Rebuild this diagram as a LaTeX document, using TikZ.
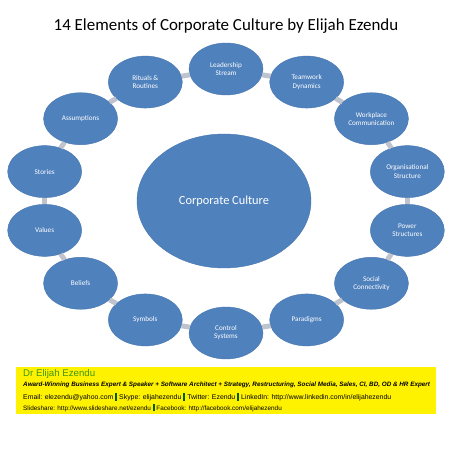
\documentclass[tikz,border=0pt]{standalone}
\usepackage{fontspec}
\setmainfont{Carlito}
\newfontfamily\arialfont{Liberation Sans}
\usepackage{tikz}
\usetikzlibrary{positioning,shapes.geometric,calc}

\definecolor{ringblue}{RGB}{79,129,189}
\definecolor{ringedge}{RGB}{70,118,175}
\definecolor{linkgray}{RGB}{190,195,205}
\definecolor{namegreen}{RGB}{60,150,20}
\definecolor{bargreen}{RGB}{0,95,0}

\newcommand{\sepbar}{ {\color{bargreen}\rule[-0.15ex]{0.3em}{1.15em}} }

\begin{document}
\begin{tikzpicture}[
  x=1bp, y=1bp,
  elem/.style={ellipse, draw=ringedge, line width=0.4pt, fill=ringblue,
               minimum width=74bp, minimum height=52bp, inner sep=0pt,
               text=white, align=center, font=\fontsize{7.2}{8.2}\selectfont},
  link/.style={line width=5bp, color=linkgray},
  infoline/.style={anchor=west, inner sep=0pt, font=\arialfont\fontsize{6.4}{7}\selectfont},
]
\useasboundingbox[fill=white] (-226,-252) rectangle (227,201);

\node (title) at (0,175) {\fontsize{17}{20}\selectfont 14 Elements of Corporate Culture by Elijah Ezendu};

% centre
\node[elem, minimum width=174bp, minimum height=134bp, font=\fontsize{12.4}{14}\selectfont] (core) at (-2,0) {Corporate Culture};

% ring of elements
\node[elem] (lead)    at (90:186bp and 132bp)      {Leadership\\Stream};
\node[elem] (team)    at (64.29:186bp and 132bp)   {Teamwork\\Dynamics};
\node[elem] (work)    at (38.57:186bp and 132bp)   {Workplace\\Communication};
\node[elem] (org)     at (12.86:186bp and 132bp)   {Organisational\\Structure};
\node[elem] (power)   at (-12.86:186bp and 132bp)  {Power\\Structures};
\node[elem] (social)  at (-38.57:186bp and 132bp)  {Social\\Connectivity};
\node[elem] (para)    at (-64.29:186bp and 132bp)  {Paradigms};
\node[elem] (control) at (-90:186bp and 132bp)     {Control\\Systems};
\node[elem] (symb)    at (-115.71:186bp and 132bp) {Symbols};
\node[elem] (belief)  at (-141.43:186bp and 132bp) {Beliefs};
\node[elem] (values)  at (-167.14:186bp and 132bp) {Values};
\node[elem] (stories) at (167.14:186bp and 132bp)  {Stories};
\node[elem] (assump)  at (141.43:186bp and 132bp)  {Assumptions};
\node[elem] (ritual)  at (115.71:186bp and 132bp)  {Rituals \&\\Routines};

\draw[link] (lead)--(team); \draw[link] (team)--(work);
\draw[link] (work)--(org); \draw[link] (org)--(power);
\draw[link] (power)--(social); \draw[link] (social)--(para);
\draw[link] (para)--(control); \draw[link] (control)--(symb);
\draw[link] (symb)--(belief); \draw[link] (belief)--(values);
\draw[link] (values)--(stories); \draw[link] (stories)--(assump);
\draw[link] (assump)--(ritual); \draw[link] (ritual)--(lead);

% info box
\fill[yellow] (-210,-166) rectangle (210,-213);
\node[infoline, font=\arialfont\fontsize{9.7}{11}\selectfont, text=namegreen] (author) at (-203,-173) {Dr Elijah Ezendu};
\node[infoline, font=\arialfont\bfseries\itshape\fontsize{6.35}{7}\selectfont] (tagline) at (-203,-184)
  {Award-Winning Business Expert \& Speaker + Software Architect + Strategy, Restructuring, Social Media, Sales, CI, BD, OD \& HR Expert};
\node[infoline, font=\arialfont\fontsize{6.9}{7}\selectfont] (contact) at (-203,-196)
  {Email: elezendu@yahoo.com\sepbar Skype: elijahezendu\sepbar Twitter: Ezendu\sepbar LinkedIn: http://www.linkedin.com/in/elijahezendu};
\node[infoline] (web) at (-203,-207)
  {Slideshare: http://www.slideshare.net/ezendu\sepbar Facebook: http://facebook.com/elijahezendu};
\end{tikzpicture}
\end{document}
